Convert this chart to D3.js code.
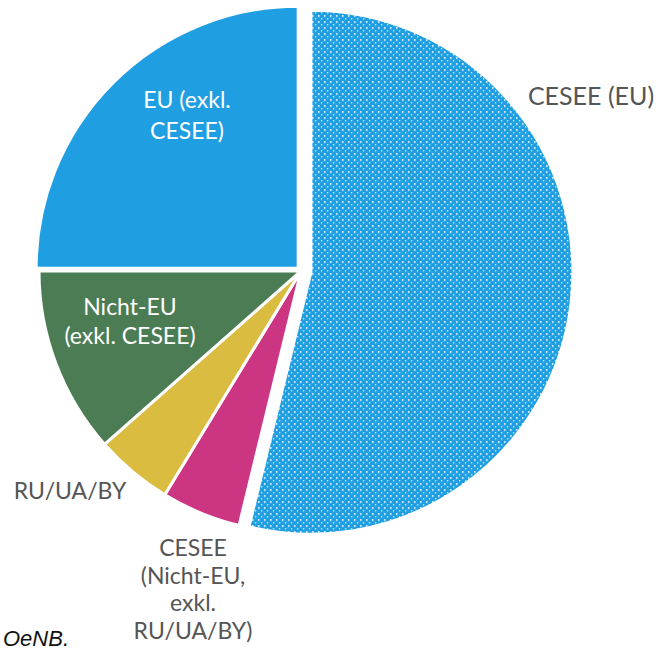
<!DOCTYPE html>
<html>
  <head>
    <meta charset="utf-8">
    <script src="https://cdn.jsdelivr.net/npm/d3@7"></script>
    <style>
      body { margin: 0; background: #fff; }
      text { font-family: Lato, "Open Sans", sans-serif; }
    </style>
  </head>
  <body>
    <div id="chart"></div>
    <script>

    // data (shares in %)
    var categories = ['CESEE (EU)', 'CESEE (Nicht-EU, exkl. RU/UA/BY)', 'RU/UA/BY', 'Nicht-EU (exkl. CESEE)', 'EU (exkl. CESEE)'];
    var shares = [53.8, 4.9, 4.8, 11.5, 25.0];
    var colors = ['#1f9fe2', '#cc3582', '#d9bc40', '#4b7c54', '#1f9fe2'];

    var width = 662, height = 651;
    var cx = 301, cy = 271, r = 262;

    var svg = d3.select('#chart').append('svg')
        .attr('width', width)
        .attr('height', height);

    var defs = svg.append('defs');
    var pat = defs.append('pattern')
        .attr('id', 'dots')
        .attr('patternUnits', 'userSpaceOnUse')
        .attr('width', 6)
        .attr('height', 6);
    pat.append('rect').attr('width', 6).attr('height', 6).attr('fill', colors[0]);
    pat.append('rect').attr('x', 1).attr('y', 1).attr('width', 1.6).attr('height', 1.6).attr('fill', '#fff');
    pat.append('rect').attr('x', 4).attr('y', 4).attr('width', 1.3).attr('height', 1.3).attr('fill', '#e6f4fc');

    var pie = d3.pie().sort(null).value(function(d) { return d; });
    var arc = d3.arc().innerRadius(0).outerRadius(r);
    var arcs = pie(shares);

    // exploded slices: CESEE (EU) a lot, EU a little
    var explode = [10, 0, 0, 0, 4];

    var g = svg.append('g').attr('transform', 'translate(' + cx + ',' + cy + ')');

    g.selectAll('path.slice')
        .data(arcs)
        .enter()
        .append('path')
        .attr('class', 'slice')
        .attr('d', arc)
        .attr('transform', function(d, i) {
          var a = (d.startAngle + d.endAngle) / 2;
          return 'translate(' + (Math.sin(a) * explode[i]) + ',' + (-Math.cos(a) * explode[i]) + ')';
        })
        .attr('fill', function(d, i) { return i == 0 ? 'url(#dots)' : colors[i]; })
        .attr('stroke', '#fff')
        .attr('stroke-width', 3)
        .attr('stroke-linejoin', 'round');

    // label lines and placement (relative to pie centre)
    var labels = [
      { lines: ['CESEE (EU)'], x: 290, y: -166, size: 25, gap: 30, fill: '#555' },
      { lines: ['CESEE', '(Nicht-EU,', 'exkl.', 'RU/UA/BY)'], x: -108, y: 285, size: 23, gap: 27.5, fill: '#555' },
      { lines: ['RU/UA/BY'], x: -231, y: 228, size: 23, gap: 30, fill: '#555' },
      { lines: ['Nicht-EU', '(exkl. CESEE)'], x: -171, y: 44, size: 23, gap: 29, fill: '#fff' },
      { lines: ['EU (exkl.', 'CESEE)'], x: -114, y: -163, size: 23, gap: 31, fill: '#fff' }
    ];

    labels.forEach(function(l) {
      var t = g.append('text')
          .attr('text-anchor', 'middle')
          .attr('fill', l.fill)
          .style('font-size', l.size + 'px');
      l.lines.forEach(function(s, j) {
        t.append('tspan')
            .attr('x', l.x)
            .attr('y', l.y + j * l.gap)
            .text(s);
      });
    });

    svg.append('text')
        .attr('x', 3)
        .attr('y', 646)
        .style('font-family', '"Liberation Sans", Arial, sans-serif')
        .style('font-style', 'italic')
        .style('font-size', '22px')
        .attr('fill', '#111')
        .text('OeNB.');

    </script>
  </body>
</html>
